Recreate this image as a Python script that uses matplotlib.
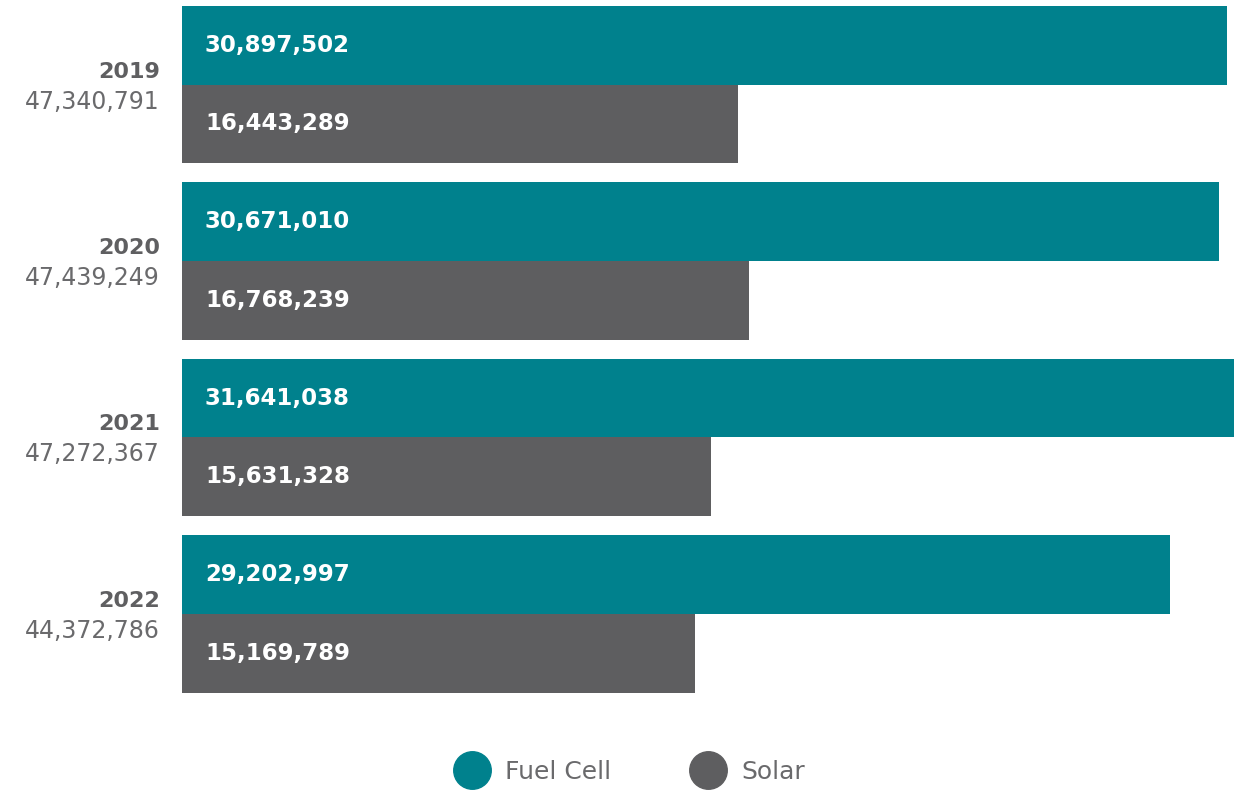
import numpy as np
import matplotlib.pyplot as plt
from matplotlib.lines import Line2D

plt.rcParams.update({
    'font.family': 'DejaVu Sans',
})

years = ['2019', '2020', '2021', '2022']
fuel_cell = [30897502, 30671010, 31641038, 29202997]
solar = [16443289, 16768239, 15631328, 15169789]
totals = [47340791, 47439249, 47272367, 44372786]

teal = '#00818d'
grey = '#5e5e60'
text_grey = '#5f5f61'
light_grey = '#6a6a6c'

W, H = 1234, 791
fig = plt.figure(figsize=(W / 100, H / 100), dpi=100)
ax = fig.add_axes([182 / W, 1 - 692.5 / H, 1 - 182 / W, (692.5 - 6) / H])

h = 0.445
y = np.arange(len(years))
ax.barh(y - h / 2, fuel_cell, height=h, color=teal)
ax.barh(y + h / 2, solar, height=h, color=grey)

# axis stops a bit short of the longest bar, which runs off the edge
ax.set_ylim(len(years) - 1 + h, -h)
ax.set_xlim(0, 31.1e6)
ax.axis('off')

for i in range(len(years)):
    ax.annotate(f'{fuel_cell[i]:,}', xy=(0, y[i] - h / 2), xytext=(23, 0),
                textcoords='offset pixels', color='white',
                fontsize=16.5, fontweight='bold', va='center', ha='left')
    ax.annotate(f'{solar[i]:,}', xy=(0, y[i] + h / 2), xytext=(23, 0),
                textcoords='offset pixels', color='white',
                fontsize=16.5, fontweight='bold', va='center', ha='left')
    ax.annotate(years[i], xy=(0, y[i]), xytext=(-22, 13), textcoords='offset pixels',
                ha='right', va='center', fontsize=16, fontweight='bold', color=text_grey)
    ax.annotate(f'{totals[i]:,}', xy=(0, y[i]), xytext=(-22, -17), textcoords='offset pixels',
                ha='right', va='center', fontsize=17, color=light_grey)

handles = [Line2D([], [], marker='o', linestyle='none', markersize=27,
                  markerfacecolor=c, markeredgecolor=c) for c in (teal, grey)]
leg = fig.legend(handles, ['Fuel Cell', 'Solar'], loc='center', ncol=2,
                 bbox_to_anchor=(629 / W, 1 - 772 / H), frameon=False,
                 fontsize=18, handletextpad=0.6, columnspacing=3.1, handlelength=1.5)
for t in leg.get_texts():
    t.set_color(light_grey)

fig.savefig('out.png', dpi=100)
